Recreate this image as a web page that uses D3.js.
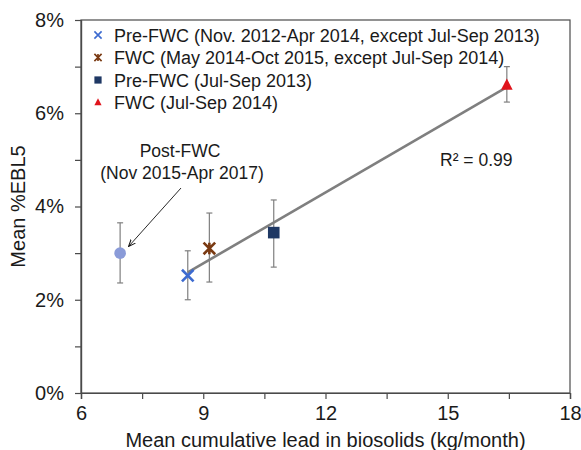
<!DOCTYPE html>
<html>
<head>
<meta charset="utf-8">
<script src="https://cdn.jsdelivr.net/npm/d3@7"></script>
<style>
  body{margin:0;background:#fff;}
  svg{display:block;font-family:"Liberation Sans",Arial,sans-serif;}
</style>
</head>
<body>
<div id="chart"></div>
<script>
// series (x = kg/month, y = %EBL5)
const seriesNames = [
  'Pre-FWC (Nov. 2012-Apr 2014, except Jul-Sep 2013)',
  'FWC (May 2014-Oct 2015, except Jul-Sep 2014)',
  'Pre-FWC (Jul-Sep 2013)',
  'FWC (Jul-Sep 2014)'
];
const seriesShapes = ['x', 'star', 'square', 'triangle'];
const seriesColors = ['#3d6bd0', '#7a3a12', '#1f3864', '#e0141c'];
const xVals  = [8.62, 9.15, 10.73, 16.45];
const yVals  = [2.52, 3.10, 3.44, 6.60];
const yLow   = [2.00, 2.38, 2.70, 6.24];
const yHigh  = [3.05, 3.86, 4.14, 7.00];

// Post-FWC point (not in fit)
const postX = 6.96, postY = 3.00, postLow = 2.36, postHigh = 3.65;

const xTicks = [6, 9, 12, 15, 18];
const xMinor = [7.5, 10.5, 13.5, 16.5];
const yTicks = [0, 2, 4, 6, 8];
const yMinor = [1, 3, 5, 7];

const W = 581, H = 450;
const m = {left: 81, right: 11, top: 20, bottom: 57};

const svg = d3.select('#chart').append('svg').attr('width', W).attr('height', H);

const x = d3.scaleLinear().domain([6, 18]).range([m.left, W - m.right]);
const y = d3.scaleLinear().domain([0, 8]).range([H - m.bottom, m.top]);

const axisColor = '#4a4a4a';
const textColor = '#1a1a1a';

// frame
svg.append('rect')
  .attr('x', x(6)).attr('y', y(8))
  .attr('width', x(18) - x(6)).attr('height', y(0) - y(8))
  .attr('fill', 'none').attr('stroke', axisColor).attr('stroke-width', 1.2);

// axes
const xAxis = svg.append('g').attr('transform', `translate(0,${y(0)})`)
  .call(d3.axisBottom(x).tickValues(xTicks).tickSize(6).tickPadding(7).tickFormat(d3.format('d')));
const xAxisMinor = svg.append('g').attr('transform', `translate(0,${y(0)})`)
  .call(d3.axisBottom(x).tickValues(xMinor).tickSize(6).tickFormat(''));
const yAxis = svg.append('g').attr('transform', `translate(${x(6)},0)`)
  .call(d3.axisLeft(y).tickValues(yTicks).tickSize(6).tickPadding(11).tickFormat(d => d + '%'));
const yAxisMinor = svg.append('g').attr('transform', `translate(${x(6)},0)`)
  .call(d3.axisLeft(y).tickValues(yMinor).tickSize(6).tickFormat(''));

[xAxis, xAxisMinor, yAxis, yAxisMinor].forEach(g => {
  g.select('.domain').attr('stroke', axisColor).attr('stroke-width', 1.2);
  g.selectAll('line').attr('stroke', axisColor).attr('stroke-width', 1.2);
  g.selectAll('text').attr('fill', textColor).attr('font-size', 20).attr('font-family', null);
});

// axis titles
svg.append('text')
  .attr('x', (x(6) + x(18)) / 2).attr('y', 447)
  .attr('text-anchor', 'middle').attr('font-size', 20).attr('fill', textColor)
  .text('Mean cumulative lead in biosolids (kg/month)');
svg.append('text')
  .attr('transform', `translate(25,${(y(0) + y(8)) / 2}) rotate(-90)`)
  .attr('text-anchor', 'middle').attr('font-size', 20).attr('fill', textColor)
  .text('Mean %EBL5');

// regression line through the four series
const mx = d3.mean(xVals), my = d3.mean(yVals);
const sxy = d3.sum(xVals, (v, i) => (v - mx) * (yVals[i] - my));
const sxx = d3.sum(xVals, v => (v - mx) * (v - mx));
const slope = sxy / sxx, icpt = my - slope * mx;
const xr = d3.extent(xVals);
svg.append('line')
  .attr('x1', x(xr[0])).attr('y1', y(icpt + slope * xr[0]))
  .attr('x2', x(xr[1])).attr('y2', y(icpt + slope * xr[1]))
  .attr('stroke', '#7f7f7f').attr('stroke-width', 2.6);

// error bars
const errColor = '#7f7f7f';
function errBar(cx, lo, hi){
  const g = svg.append('g').attr('stroke', errColor).attr('stroke-width', 1.2);
  g.append('line').attr('x1', x(cx)).attr('x2', x(cx)).attr('y1', y(lo)).attr('y2', y(hi));
  g.append('line').attr('x1', x(cx) - 3).attr('x2', x(cx) + 3).attr('y1', y(lo)).attr('y2', y(lo));
  g.append('line').attr('x1', x(cx) - 3).attr('x2', x(cx) + 3).attr('y1', y(hi)).attr('y2', y(hi));
}
xVals.forEach((v, i) => errBar(v, yLow[i], yHigh[i]));
errBar(postX, postLow, postHigh);

// markers
function marker(g, shape, color, s){
  if(shape === 'x'){
    g.append('path').attr('d', `M${-s},${-s}L${s},${s}M${-s},${s}L${s},${-s}`)
      .attr('stroke', color).attr('stroke-width', s * 0.45).attr('fill', 'none');
  } else if(shape === 'star'){
    g.append('path').attr('d', `M${-s},${-s}L${s},${s}M${-s},${s}L${s},${-s}M0,${-s}L0,${s}`)
      .attr('stroke', color).attr('stroke-width', s * 0.45).attr('fill', 'none');
  } else if(shape === 'square'){
    g.append('rect').attr('x', -s).attr('y', -s).attr('width', 2 * s).attr('height', 2 * s).attr('fill', color);
  } else if(shape === 'triangle'){
    g.append('path').attr('d', `M0,${-s * 1.15}L${s},${s * 0.75}L${-s},${s * 0.75}Z`).attr('fill', color);
  }
}
xVals.forEach((v, i) => {
  const g = svg.append('g').attr('transform', `translate(${x(v)},${y(yVals[i])})`);
  marker(g, seriesShapes[i], seriesColors[i], 5.8);
});
svg.append('circle').attr('cx', x(postX)).attr('cy', y(postY)).attr('r', 5.8).attr('fill', '#8a9bd8');

// legend
const leg = svg.append('g');
seriesNames.forEach((name, i) => {
  const row = leg.append('g').attr('transform', `translate(98,${35 + i * 22.5})`);
  marker(row, seriesShapes[i], seriesColors[i], 3.6);
  row.append('text').attr('x', 16).attr('y', 6.5).attr('font-size', 18).attr('fill', textColor).text(name);
});

// annotation
svg.append('defs').append('marker')
  .attr('id', 'arr').attr('viewBox', '0 0 10 10').attr('refX', 9).attr('refY', 5)
  .attr('markerWidth', 8).attr('markerHeight', 8).attr('orient', 'auto')
  .append('path').attr('d', 'M0,1L10,5L0,9').attr('fill', 'none').attr('stroke', '#111').attr('stroke-width', 1.4);
svg.append('line')
  .attr('x1', 181).attr('y1', 188).attr('x2', 129).attr('y2', 246)
  .attr('stroke', '#111').attr('stroke-width', 0.9).attr('marker-end', 'url(#arr)');
svg.append('text').attr('x', 180).attr('y', 157).attr('text-anchor', 'middle')
  .attr('font-size', 17.5).attr('fill', textColor).text('Post-FWC');
svg.append('text').attr('x', 182).attr('y', 179).attr('text-anchor', 'middle')
  .attr('font-size', 17.5).attr('fill', textColor).text('(Nov 2015-Apr 2017)');

svg.append('text').attr('x', 440).attr('y', 166)
  .attr('font-size', 17.5).attr('fill', textColor).text('R² = 0.99');
</script>
</body>
</html>
